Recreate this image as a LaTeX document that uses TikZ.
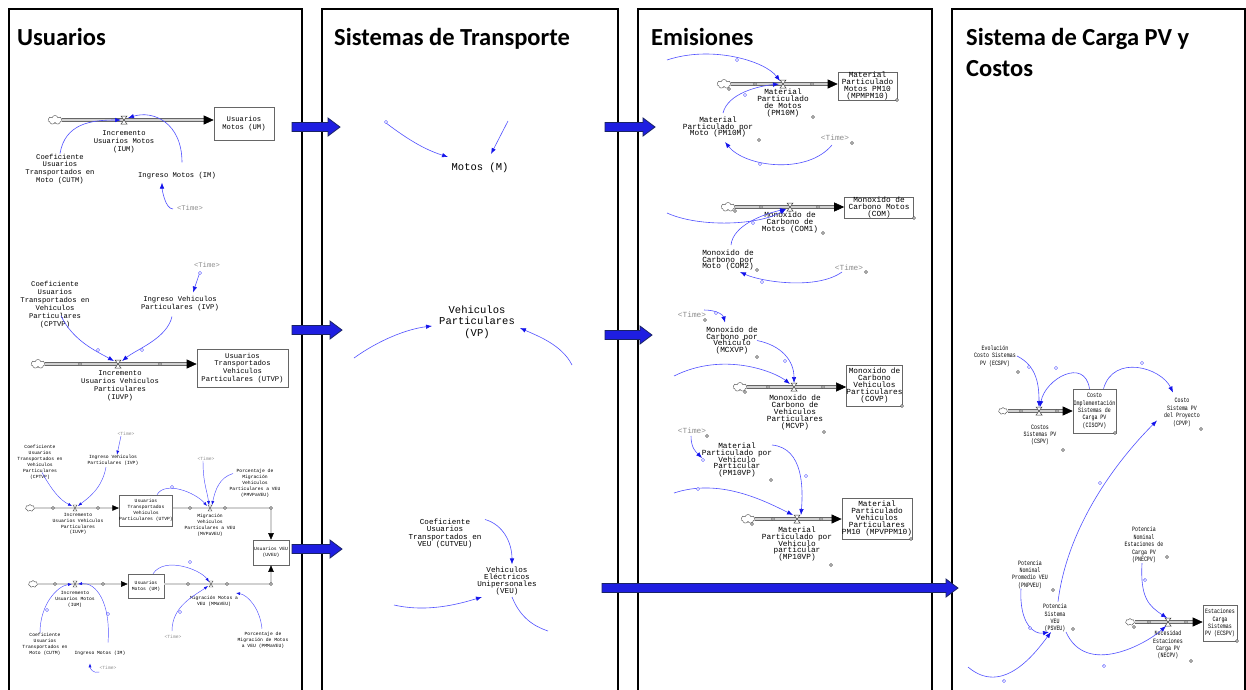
\documentclass[tikz,border=0pt]{standalone}
\usepackage{fontspec}
\setmainfont{Carlito}
\setmonofont{Liberation Mono}
\newfontfamily\narrowmono[FakeStretch=0.75]{Liberation Mono}
\usetikzlibrary{arrows.meta,shapes.symbols,positioning}
\setlength{\lineskiplimit}{-20pt}

\definecolor{linkblue}{RGB}{80,80,255}
\definecolor{tipblue}{RGB}{20,20,235}
\definecolor{arrowfill}{RGB}{30,30,225}
\definecolor{arrowline}{RGB}{25,35,100}

% Big arrows between the panels: from x #1 to x #2 at height #3
\newcommand{\blockArrow}[3]{%
  \draw[arrowline, fill=arrowfill, line width=0.8pt] (#1,#3-4.5) -- (#2-12,#3-4.5) -- (#2-12,#3-9) -- (#2,#3) -- (#2-12,#3+9) -- (#2-12,#3+4.5) -- (#1,#3+4.5) -- cycle;}

\tikzset{
  frame/.style={line width=1.3pt, black},
  heading/.style={font=\fontsize{24.5}{28}\selectfont\bfseries, anchor=base west, inner sep=0pt},
  txtA/.style={align=center, inner sep=0pt, font=\ttfamily\fontsize{7.2}{7.9}\selectfont},
  txtS/.style={align=center, inner sep=0pt, font=\ttfamily\fontsize{4.7}{5.9}\selectfont},
  txtT/.style={align=center, inner sep=0pt, font=\ttfamily\fontsize{10.5}{11.5}\selectfont},
  txtTs/.style={align=center, inner sep=0pt, font=\ttfamily\fontsize{7.6}{7.2}\selectfont},
  txtE/.style={align=center, inner sep=0pt, font=\ttfamily\fontsize{7.8}{6.9}\selectfont},
  txtP/.style={align=center, inner sep=0pt, font=\narrowmono\fontsize{6.6}{7.4}\selectfont},
  timevar/.style={text=black!45},
  stockbox/.style={draw=black!60, line width=0.6pt, fill=white, inner sep=1pt},
  cloudy/.style={cloud, cloud puffs=7, draw=black!70, fill=white, minimum width=14pt, minimum height=9pt, inner sep=0pt},
  cloudsmall/.style={cloudy, minimum width=9pt, minimum height=7pt},
  pipe/.style={draw=black!60, line width=0.6pt, double=black!18, double distance=2.2pt, -{Triangle[length=10pt,width=9pt,color=black]}},
  pipesmall/.style={draw=black!60, line width=0.45pt, double=black!18, double distance=1.6pt, -{Triangle[length=6.5pt,width=5.5pt,color=black]}},
  link/.style={draw=linkblue, line width=0.6pt, -{Latex[length=6pt,width=4.5pt,color=tipblue]}},
  linksmall/.style={draw=linkblue, line width=0.45pt, -{Latex[length=4pt,width=3pt,color=tipblue]}},
  linkplain/.style={draw=linkblue, line width=0.6pt},
  handle/.style={draw=linkblue, line width=0.45pt, fill=white},
  dot/.style={draw=black!70, line width=0.45pt, fill=white},
  valve/.pic={\draw[black!75, line width=0.5pt, fill=white] (-3,-4) -- (3,-4) -- (-3,4) -- (3,4) -- cycle;},
  valvesmall/.pic={\draw[black!75, line width=0.4pt, fill=white] (-2,-3) -- (2,-3) -- (-2,3) -- (2,3) -- cycle;}
}

\begin{document}
\begin{tikzpicture}[x=1pt,y=-1pt]
\useasboundingbox (0,0) rectangle (1246,689);

% Panel frames
\foreach \xl/\xr in {9/302, 322/618, 638/932, 952/1245}
  \draw[frame] (\xl,690) -- (\xl,9) -- (\xr,9) -- (\xr,690);

\node[heading] (hdUsuarios) at (17,45) {Usuarios};
\node[heading] (hdTransporte) at (334,45) {Sistemas de Transporte};
\node[heading] (hdEmisiones) at (651,45) {Emisiones};
\node[heading] (hdCarga) at (966,45) {Sistema de Carga PV y};
\node[heading] (hdCostos) at (966,76) {Costos};

% Arrows between panels
\blockArrow{292}{340}{127}
\blockArrow{292}{342}{330}
\blockArrow{292}{342}{549}
\blockArrow{605}{655}{127}
\blockArrow{605}{652}{335}
\blockArrow{602}{958}{588}

%%%%%%%%%%%%%%%% Usuarios %%%%%%%%%%%%%%%%
% Usuarios Motos
\node[cloudy] (cIUM) at (55,120) {};
\node[stockbox, txtA, minimum width=60pt, minimum height=33pt] (UM) at (244,123.5) {Usuarios\\Motos (UM)};
\coordinate (vIUM) at (124,120);
\draw[pipe] (cIUM.east) -- (cIUM.east -| UM.west);
\pic at (vIUM) {valve};
\node[txtA] (IUM) at (124,142) {Incremento\\Usuarios Motos\\(IUM)};
\node[txtA] (CUTM) at (60,169) {Coeficiente\\Usuarios\\Transportados en\\Moto (CUTM)};
\node[txtA] (IM) at (177,176) {Ingreso Motos (IM)};
\node[txtA, timevar] (tIM) at (190,208) {\textless Time\textgreater};
\draw[link] (CUTM.north) .. controls +(5,-30) and +(-30,0) .. ([xshift=-3pt]vIUM);
\draw[link] ([xshift=5pt,yshift=10pt]IM.north) .. controls +(0,-40) and +(25,-8) .. ([xshift=4pt,yshift=2pt]vIUM);
\draw[link] ([xshift=-17pt,yshift=-1pt]tIM.center) .. controls +(-8,0) and +(0,6) .. ([xshift=-15pt,yshift=-3pt]IM.south);

% Usuarios Transportados Vehiculos Particulares
\node[cloudy] (cIUVP) at (38,364) {};
\node[stockbox, txtA, minimum width=91pt, minimum height=38pt] (UTVP) at (242.5,368) {Usuarios\\Transportados\\Vehiculos\\Particulares (UTVP)};
\coordinate (vIUVP) at (118,364);
\draw[pipe] (cIUVP.east) -- (cIUVP.east -| UTVP.west);
\pic at (vIUVP) {valve};
\node[txtA] (IUVP) at (120,386) {Incremento\\Usuarios Vehiculos\\Particulares\\(IUVP)};
\node[txtA] (CPTVP) at (55,304.5) {Coeficiente\\Usuarios\\Transportados en\\Vehiculos\\Particulares\\(CPTVP)};
\node[txtA] (IVP) at (180,304) {Ingreso Vehiculos\\Particulares (IVP)};
\node[txtA, timevar] (tIVP) at (207,265) {\textless Time\textgreater};
\draw[link] ([xshift=6pt,yshift=12pt]CPTVP.south) .. controls +(12,25) and +(-18,-10) .. ([xshift=-4pt,yshift=3pt]vIUVP);
\draw[link] ([xshift=-8pt,yshift=-5pt]IVP.south) .. controls +(-5,22) and +(15,-12) .. ([xshift=4pt,yshift=3pt]vIUVP);
\draw[link] ([xshift=-7pt,yshift=-4pt]tIVP.south) -- ([xshift=13pt,yshift=4pt]IVP.north);

% Usuarios VEU (small model)
\node[cloudsmall] (cIUVP2) at (30,508) {};
\node[stockbox, txtS, minimum width=52pt, minimum height=31pt] (UTVP2) at (146,510.5) {Usuarios\\Transportados\\Vehiculos\\Particulares (UTVP)};
\node[stockbox, txtS, minimum width=36pt, minimum height=25pt] (UVEU) at (271,552.5) {Usuarios VEU\\(UVEU)};
\node[cloudsmall] (cIUM2) at (33,584) {};
\node[stockbox, txtS, minimum width=36pt, minimum height=24pt] (UM2) at (146,586) {Usuarios\\Motos (UM)};
\coordinate (vIUVP2) at (75,508);
\coordinate (vMVPaVEU) at (210,508);
\coordinate (vIUM2) at (75,584);
\coordinate (vMMaVEU) at (211,584);
\draw[pipesmall] (cIUVP2.east) -- (cIUVP2.east -| UTVP2.west);
\draw[pipesmall] (UTVP2.east |- vMVPaVEU) -- (vMVPaVEU -| UVEU) -- (UVEU.north);
\draw[pipesmall] (cIUM2.east) -- (cIUM2.east -| UM2.west);
\draw[pipesmall] (UM2.east |- vMMaVEU) -- (vMMaVEU -| UVEU) -- (UVEU.south);
\foreach \v in {vIUVP2, vMVPaVEU, vIUM2, vMMaVEU}
  \pic at (\v) {valvesmall};

\node[txtS] (IUVP2) at (78,524) {Incremento\\Usuarios Vehiculos\\Particulares\\(IUVP)};
\node[txtS] (CPTVP2) at (40,462.5) {Coeficiente\\Usuarios\\Transportados en\\Vehiculos\\Particulares\\(CPTVP)};
\node[txtS] (IVP2) at (113,460) {Ingreso Vehiculos\\Particulares (IVP)};
\node[txtS, timevar] (tIVP2) at (126,434) {\textless Time\textgreater};
\node[txtS] (MVPaVEU) at (210,525) {Migración\\Vehiculos\\Particulares a VEU\\(MVPaVEU)};
\node[txtS, timevar] (tMVP) at (206,459) {\textless Time\textgreater};
\node[txtS] (PMVPaVEU) at (255,483.5) {Porcentaje de\\Migración\\Vehiculos\\Particulares a VEU\\(PMVPaVEU)};
\node[txtS] (IUM2) at (75,599.5) {Incremento\\Usuarios Motos\\(IUM)};
\node[txtS] (CUTM2) at (45,644) {Coeficiente\\Usuarios\\Transportados en\\Moto (CUTM)};
\node[txtS] (IM2) at (100,653) {Ingreso Motos (IM)};
\node[txtS, timevar] (tIM2) at (108,668) {\textless Time\textgreater};
\node[txtS] (MMaVEU) at (214,601) {Migración Motos a\\VEU (MMaVEU)};
\node[txtS, timevar] (tMMa) at (173,637) {\textless Time\textgreater};
\node[txtS] (PMMaVEU) at (263,640) {Porcentaje de\\Migración de Motos\\a VEU (PMMaVEU)};

\draw[linksmall] ([xshift=2pt,yshift=-10pt]CPTVP2.center) .. controls +(10,18) and +(-12,-6) .. ([xshift=-3pt,yshift=2pt]vIUVP2);
\draw[linksmall] ([xshift=-7pt,yshift=-7pt]IVP2.center) .. controls +(-4,22) and +(10,-8) .. ([xshift=3pt,yshift=2pt]vIUVP2);
\draw[linksmall] ([xshift=-5pt]tIVP2.south) -- ([xshift=4pt]IVP2.north);
\draw[linksmall] ([xshift=11pt]UTVP2.north) .. controls +(8,-14) and +(-12,-14) .. ([xshift=-3pt,yshift=2pt]vMVPaVEU);
\draw[linksmall] ([xshift=-3pt]tMVP.south) .. controls +(0,22) and +(-2,-15) .. ([xshift=-1pt,yshift=3pt]vMVPaVEU);
\draw[linksmall] ([xshift=-22pt,yshift=10pt]PMVPaVEU.center) .. controls +(-14,4) and +(3,-14) .. ([xshift=2pt,yshift=3pt]vMVPaVEU);
\draw[linksmall] ([xshift=-5pt]CUTM2.north) .. controls +(0,-28) and +(-15,2) .. ([xshift=-3pt]vIUM2);
\draw[linksmall] ([xshift=8pt,yshift=8pt]IM2.north) .. controls +(3,-40) and +(18,-2) .. ([xshift=3pt]vIUM2);
\draw[linksmall] ([yshift=-4pt]tIM2.west) .. controls +(-6,2) and +(0,5) .. ([xshift=-10pt,yshift=-8pt]IM2.south);
\draw[linksmall] ([xshift=7pt]UM2.north) .. controls +(12,-18) and +(-8,-12) .. ([xshift=-2pt,yshift=2pt]vMMaVEU);
\draw[linksmall] ([xshift=-1pt,yshift=4pt]tMMa.north) .. controls +(0,-25) and +(-14,10) .. ([xshift=-3pt,yshift=-2pt]vMMaVEU);
\draw[linksmall] ([xshift=-1pt,yshift=3pt]PMMaVEU.north) .. controls +(-2,-20) and +(12,2) .. ([xshift=25pt,yshift=-9pt]vMMaVEU);

%%%%%%%%%%%%%%%% Sistemas de Transporte %%%%%%%%%%%%%%%%
\node[txtT] (M) at (480,168) {Motos (M)};
\coordinate (srcM1) at (386,123);
\coordinate (srcM2) at (508,121);
\draw[link] (srcM1) .. controls +(20,15) and +(-25,-8) .. ([xshift=-32pt,yshift=11pt]M.center);
\draw[link] (srcM2) -- ([xshift=11pt,yshift=14pt]M.center);
\node[txtT] (VP) at (477,322) {Vehiculos\\Particulares\\(VP)};
\coordinate (srcVP1) at (354,358);
\coordinate (srcVP2) at (572,365);
\draw[link] (srcVP1) .. controls +(25,-18) and +(-25,3) .. ([xshift=-45pt,yshift=-4pt]VP.center);
\draw[link] (srcVP2) .. controls +(-10,-20) and +(18,8) .. ([xshift=43pt,yshift=-6pt]VP.center);
\node[txtTs] (CUTVEU) at (445,533.5) {Coeficiente\\Usuarios\\Transportados en\\VEU (CUTVEU)};
\node[txtTs] (VEU) at (507,581) {Vehiculos\\Eléctricos\\Unipersonales\\(VEU)};
\draw[link] ([xshift=40pt,yshift=14pt]CUTVEU.center) .. controls +(18,5) and +(0,-22) .. ([xshift=5pt,yshift=2pt]VEU.north);
\coordinate (srcVEU) at (394,605);
\coordinate (dstVEU) at (548,631);
\draw[link] (srcVEU) .. controls +(35,8) and +(-20,6) .. ([xshift=-25pt,yshift=-16pt]VEU.center);
\draw[linkplain] ([xshift=5pt,yshift=-16pt]VEU.center) .. controls +(8,20) and +(-15,-5) .. (dstVEU);

%%%%%%%%%%%%%%%% Emisiones %%%%%%%%%%%%%%%%
% Material particulado motos
\node[cloudy] (cPM10M) at (724,84) {};
\node[stockbox, txtE, minimum width=59pt, minimum height=28pt] (MPMPM10) at (867.5,86) {Material\\Particulado\\Motos PM10\\(MPMPM10)};
\coordinate (vPM10M) at (783,84);
\draw[pipe] (cPM10M.east) -- (cPM10M.east -| MPMPM10.west);
\pic at (vPM10M) {valve};
\node[txtE] (PM10Mv) at (783,103) {Material\\Particulado\\de Motos\\(PM10M)};
\node[txtE] (PM10M) at (718,127) {Material\\Particulado por\\Moto (PM10M)};
\node[txtE, timevar] (tPM10M) at (835,138) {\textless Time\textgreater};
\coordinate (srcPM10M) at (667,60);
\draw[link] (srcPM10M) .. controls +(45,-15) and +(-15,-20) .. ([xshift=-3pt,yshift=3pt]vPM10M);
\draw[link] ([xshift=5pt,yshift=14pt]PM10M.center) .. controls +(5,-20) and +(-20,2) .. ([xshift=-4pt]vPM10M);
\draw[link] ([xshift=-3pt,yshift=-7pt]tPM10M.center) .. controls +(-25,30) and +(20,25) .. ([xshift=7pt,yshift=-15pt]PM10M.center);

% Monoxido de carbono motos
\node[cloudy] (cCOM1) at (728,207) {};
\node[stockbox, txtE, minimum width=69pt, minimum height=21pt] (COM) at (879,207.5) {Monoxido de\\Carbono Motos\\(COM)};
\coordinate (vCOM1) at (790,207);
\draw[pipe] (cCOM1.east) -- (cCOM1.east -| COM.west);
\pic at (vCOM1) {valve};
\node[txtE] (COM1) at (790,222.5) {Monoxido de\\Carbono de\\Motos (COM1)};
\node[txtE] (COM2) at (728,260) {Monoxido de\\Carbono por\\Moto (COM2)};
\node[txtE, timevar] (tCOM2) at (849,268) {\textless Time\textgreater};
\coordinate (srcCOM1) at (667,213);
\draw[link] (srcCOM1) .. controls +(33,15) and +(-26,16) .. ([xshift=-4pt,yshift=-2pt]vCOM1);
\draw[link] ([xshift=3pt,yshift=15pt]COM2.center) .. controls +(2,-20) and +(-22,5) .. ([xshift=-4pt,yshift=-2pt]vCOM1);
\draw[link] ([xshift=-7pt,yshift=-4pt]tCOM2.center) .. controls +(-25,18) and +(22,10) .. ([xshift=12pt,yshift=-12pt]COM2.center);

% Monoxido de carbono vehiculos particulares
\node[txtE, timevar] (tMCXVP) at (692,315) {\textless Time\textgreater};
\node[txtE] (MCXVP) at (732,340.5) {Monoxido de\\Carbono por\\Vehiculo\\(MCXVP)};
\node[cloudy] (cMCVP) at (740,387) {};
\node[stockbox, txtE, minimum width=55pt, minimum height=41pt] (COVP) at (874.5,385.5) {Monoxido de\\Carbono\\Vehiculos\\Particulares\\(COVP)};
\coordinate (vMCVP) at (794,387);
\draw[pipe] (cMCVP.east) -- (cMCVP.east -| COVP.west);
\pic at (vMCVP) {valve};
\node[txtE] (MCVP) at (795,412.5) {Monoxido de\\Carbono de\\Vehiculos\\Particulares\\(MCVP)};
\coordinate (srcMCVP) at (674,376);
\draw[link] ([xshift=12pt,yshift=5pt]tMCXVP.center) .. controls +(12,0) and +(-2,-8) .. ([xshift=-7pt,yshift=18pt]MCXVP.center);
\draw[link] ([xshift=25pt]MCXVP.center) .. controls +(25,5) and +(0,-22) .. ([yshift=4pt]vMCVP);
\draw[link] (srcMCVP) .. controls +(50,-25) and +(-15,-12) .. ([xshift=-4pt,yshift=3pt]vMCVP);

% Material particulado vehiculos particulares
\node[txtE, timevar] (tPM10VP) at (692,431) {\textless Time\textgreater};
\node[txtE] (PM10VP) at (737,460) {Material\\Particulado por\\Vehiculo\\Particular\\(PM10VP)};
\node[cloudy] (cMP10VP) at (748,519) {};
\node[stockbox, txtE, minimum width=70pt, minimum height=41pt] (MPVPPM10) at (877,518.5) {Material\\Particulado\\Vehiculos\\Particulares\\PM10 (MPVPPM10)};
\coordinate (vMP10VP) at (797,519);
\draw[pipe] (cMP10VP.east) -- (cMP10VP.east -| MPVPPM10.west);
\pic at (vMP10VP) {valve};
\node[txtE] (MP10VP) at (797,544) {Material\\Particulado por\\Vehiculo\\particular\\(MP10VP)};
\coordinate (srcMP10VP) at (674,493);
\draw[link] ([xshift=-1pt,yshift=-5pt]tPM10VP.center) .. controls +(0,12) and +(-6,-6) .. ([xshift=-35pt,yshift=2pt]PM10VP.center);
\draw[link] ([xshift=35pt,yshift=15pt]PM10VP.center) .. controls +(32,3) and +(2,-25) .. ([xshift=4pt,yshift=4pt]vMP10VP);
\draw[link] (srcMP10VP) .. controls +(45,-15) and +(-30,-15) .. ([xshift=-4pt,yshift=4pt]vMP10VP);

%%%%%%%%%%%%%%%% Sistema de Carga PV y Costos %%%%%%%%%%%%%%%%
\node[txtP] (ECSPV) at (995,356) {Evolución\\Costo Sistemas\\PV (ECSPV)};
\node[cloudsmall] (cCSPV) at (1003,411) {};
\node[stockbox, txtP, minimum width=43pt, minimum height=44pt] (CISCPV) at (1094.5,411) {Costo\\Implementación\\Sistemas de\\Carga PV\\(CISCPV)};
\coordinate (vCSPV) at (1039,411);
\draw[pipe] (cCSPV.east) -- (cCSPV.east -| CISCPV.west);
\pic at (vCSPV) {valve};
\node[txtP] (CSPV) at (1040,435) {Costos\\Sistemas PV\\(CSPV)};
\node[txtP] (CPVP) at (1182,412.5) {Costo\\Sistema PV\\del Proyecto\\(CPVP)};
\draw[link] ([xshift=22pt]ECSPV.center) .. controls +(20,10) and +(0,-22) .. ([yshift=4pt]vCSPV);
\draw[link] ([xshift=-5pt]CISCPV.north) .. controls +(-5,-32) and +(5,-28) .. ([xshift=1pt,yshift=4pt]vCSPV);
\draw[link] ([xshift=9pt]CISCPV.north) .. controls +(10,-35) and +(-12,-25) .. ([xshift=-9pt,yshift=20pt]CPVP.center);

\node[txtP] (PNPVEU) at (1030,574.5) {Potencia\\Nominal\\Promedio VEU\\(PNPVEU)};
\node[txtP] (PSVEU) at (1055,618) {Potencia\\Sistema\\VEU\\(PSVEU)};
\node[txtP] (PNECPV) at (1144,545) {Potencia\\Nominal\\Estaciones de\\Carga PV\\(PNECPV)};
\node[cloudsmall] (cNECPV) at (1130,622) {};
\node[stockbox, txtP, minimum width=34pt, minimum height=36pt] (ECSPVst) at (1220,623) {Estaciones\\Carga\\Sistemas\\PV (ECSPV)};
\coordinate (vNECPV) at (1168,622);
\draw[pipe] (cNECPV.east) -- (cNECPV.east -| ECSPVst.west);
\pic at (vNECPV) {valve};
\node[txtP] (NECPV) at (1168,645) {Necesidad\\Estaciones\\Carga PV\\(NECPV)};
\coordinate (srcPSVEU) at (968,667);
\draw[link] ([xshift=3pt,yshift=2pt]PSVEU.north) .. controls +(10,-80) and +(-35,35) .. ([xshift=-25pt,yshift=-8pt]CPVP.center);
\draw[link] ([xshift=-9pt,yshift=-14pt]PNPVEU.center) .. controls +(-2,35) and +(-15,3) .. ([xshift=-6pt,yshift=-14pt]PSVEU.center);
\draw[link] (srcPSVEU) .. controls +(35,30) and +(-15,20) .. ([xshift=-4pt,yshift=-14pt]PSVEU.center);
\draw[link] ([xshift=11pt,yshift=-14pt]PSVEU.center) .. controls +(20,45) and +(-20,18) .. ([xshift=-2pt,yshift=-4pt]vNECPV);
\draw[link] ([xshift=-2pt]PNECPV.south) .. controls +(-2,35) and +(-18,-12) .. ([xshift=-1pt,yshift=4pt]vNECPV);

% Small circles on links (blue) and on pipes / variables (grey)
\foreach \p in {(98,350),(142,350),(200,273),(172,487),(47,610),(108,614),(190,562),(180,612),(386,122),
                (737,60),(745,95),(760,164),(753,223),(762,282),(716,313),(785,361),(703,460),(806,476),(698,489),
                (1029,367),(1056,368),(1142,363),(1100,483),(1030,628),(1004,681),(1104,666),(1145,580)}
  \draw[handle] \p circle (1.6);
\foreach \p in {(80,364),(160,364),(53,508),(98,508),(190,508),(225,508),(271,508),(55,584),(103,584),(188,584),(227,584),(271,584),
                (755,84),(812,84),(813,117),(759,140),(852,143),(897,100),(729,89),
                (761,207),(818,207),(823,233),(757,270),(866,272),(914,218),(735,211),
                (705,320),(757,357),(768,387),(823,387),(902,406),(745,392),(824,432),
                (707,436),(771,480),(773,519),(821,519),(831,565),(911,539),(752,524),
                (1018,372),(1021,411),(1057,411),(1063,450),(1115,433),(1201,429),(1053,590),(1073,629),
                (1167,557),(1149,622),(1186,622),(1191,661),(1237,641),(1134,627)}
  \draw[dot] \p circle (1.5);
\end{tikzpicture}
\end{document}
